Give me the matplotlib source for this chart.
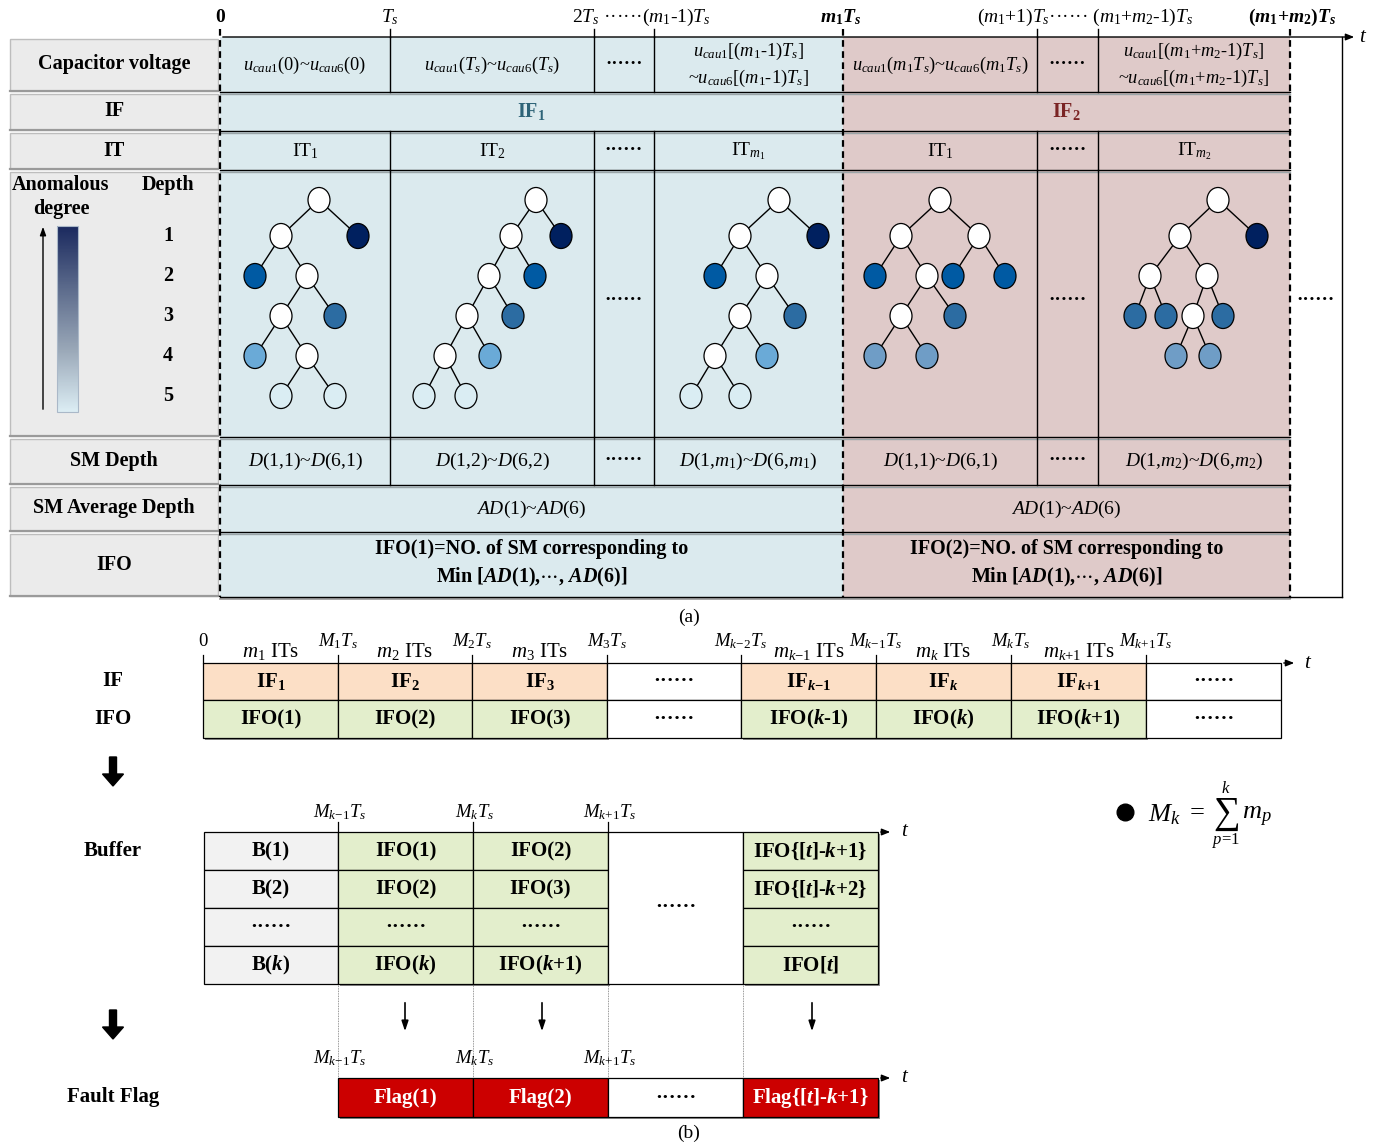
import matplotlib
matplotlib.use("Agg")
from matplotlib import pyplot as plt
from matplotlib.patches import Rectangle, Ellipse, FancyArrow
from matplotlib.colors import LinearSegmentedColormap
import numpy as np

plt.rcParams['font.family'] = ['Liberation Serif', 'DejaVu Serif']
plt.rcParams['mathtext.fontset'] = 'custom'
plt.rcParams['mathtext.rm'] = 'Liberation Serif'
plt.rcParams['mathtext.it'] = 'Liberation Serif:italic'
plt.rcParams['mathtext.bf'] = 'Liberation Serif:bold'
plt.rcParams['mathtext.bfit'] = 'Liberation Serif:italic:bold'

DOTS = "\u00b7" * 6

# ---------------- part (a) data ----------------
row_names_a = ["Capacitor voltage", "IF", "IT", "", "SM Depth", "SM Average Depth", "IFO"]

top_ticks = [
    ("0", True),
    (r"$T_s$", False),
    (r"2$T_s$ " + DOTS + r"($m_1$-1)$T_s$", False),
    (r"$\mathbfit{m}_\mathbf{1}\mathbfit{T}_\mathbfit{s}$", True),
    (r"($m_1$+1)$T_s$" + DOTS + r" ($m_1$+$m_2$-1)$T_s$", False),
    (r"($\mathbfit{m}_\mathbf{1}$+$\mathbfit{m}_\mathbf{2}$)$\mathbfit{T}_\mathbfit{s}$", True),
]

cap_labels = [
    r"$u_{cau1}$(0)~$u_{cau6}$(0)",
    r"$u_{cau1}$($T_s$)~$u_{cau6}$($T_s$)",
    DOTS,
    r"$u_{cau1}$[($m_1$-1)$T_s$]" + "\n" + r"~$u_{cau6}$[($m_1$-1)$T_s$]",
    r"$u_{cau1}$($m_1T_s$)~$u_{cau6}$($m_1T_s$)",
    DOTS,
    r"$u_{cau1}$[($m_1$+$m_2$-1)$T_s$]" + "\n" + r"~$u_{cau6}$[($m_1$+$m_2$-1)$T_s$]",
]
if_labels_a = [r"IF$_\mathbf{1}$", r"IF$_\mathbf{2}$"]
it_labels = [r"IT$_1$", r"IT$_2$", DOTS, r"IT$_{m_1}$", r"IT$_1$", DOTS, r"IT$_{m_2}$"]
depth_labels = [
    r"$D$(1,1)~$D$(6,1)", r"$D$(1,2)~$D$(6,2)", DOTS, r"$D$(1,$m_1$)~$D$(6,$m_1$)",
    r"$D$(1,1)~$D$(6,1)", DOTS, r"$D$(1,$m_2$)~$D$(6,$m_2$)",
]
ad_labels = [r"$AD$(1)~$AD$(6)", r"$AD$(1)~$AD$(6)"]
ifo_labels_a = [
    "IFO(1)=NO. of SM corresponding to\n" + r"Min [$\mathbfit{AD}$(1),$\cdots$, $\mathbfit{AD}$(6)]",
    "IFO(2)=NO. of SM corresponding to\n" + r"Min [$\mathbfit{AD}$(1),$\cdots$, $\mathbfit{AD}$(6)]",
]
depth_numbers = ["1", "2", "3", "4", "5"]

# isolation trees: (x, level, anomaly shade, parent index)
tree_1 = [(319, 0, 0, -1), (281, 1, 0, 0), (358, 1, 1, 0), (255, 2, 2, 1), (307, 2, 0, 1),
          (281, 3, 0, 4), (335, 3, 3, 4), (255, 4, 4, 5), (307, 4, 0, 5), (281, 5, 5, 8), (335, 5, 5, 8)]
tree_2 = [(536, 0, 0, -1), (511, 1, 0, 0), (561, 1, 1, 0), (489, 2, 0, 1), (535, 2, 2, 1),
          (467, 3, 0, 3), (513, 3, 3, 3), (445, 4, 0, 5), (490, 4, 4, 5), (424, 5, 5, 7), (466, 5, 5, 7)]
tree_3 = [(779, 0, 0, -1), (740, 1, 0, 0), (818, 1, 1, 0), (715, 2, 2, 1), (767, 2, 0, 1),
          (740, 3, 0, 4), (795, 3, 3, 4), (715, 4, 0, 5), (767, 4, 4, 5), (691, 5, 5, 7), (740, 5, 5, 7)]
tree_4 = [(940, 0, 0, -1), (901, 1, 0, 0), (979, 1, 0, 0), (875, 2, 2, 1), (927, 2, 0, 1),
          (953, 2, 2, 2), (1005, 2, 2, 2), (901, 3, 0, 4), (955, 3, 3, 4), (875, 4, 6, 7), (927, 4, 6, 7)]
tree_5 = [(1218, 0, 0, -1), (1180, 1, 0, 0), (1257, 1, 1, 0), (1150, 2, 0, 1), (1207, 2, 0, 1),
          (1135, 3, 3, 3), (1166, 3, 3, 3), (1193, 3, 0, 4), (1223, 3, 3, 4), (1176, 4, 6, 7), (1210, 4, 6, 7)]
trees = [tree_1, tree_2, tree_3, tree_4, tree_5]

# ---------------- part (b) data ----------------
if_labels_b = [r"IF$_\mathbf{1}$", r"IF$_\mathbf{2}$", r"IF$_\mathbf{3}$", DOTS,
               r"IF$_{\mathbfit{k}\mathbf{-1}}$", r"IF$_\mathbfit{k}$", r"IF$_{\mathbfit{k}\mathbf{+1}}$", DOTS]
ifo_labels_b = ["IFO(1)", "IFO(2)", "IFO(3)", DOTS,
                r"IFO($\mathbfit{k}$-1)", r"IFO($\mathbfit{k}$)", r"IFO($\mathbfit{k}$+1)", DOTS]
span_labels_b = [r"$m_1$ ITs", r"$m_2$ ITs", r"$m_3$ ITs", "",
                 r"$m_{k\mathrm{-1}}$ ITs", r"$m_k$ ITs", r"$m_{k\mathrm{+1}}$ ITs", ""]
bound_labels_b = ["0", r"$M_1T_s$", r"$M_2T_s$", r"$M_3T_s$",
                  r"$M_{k\mathrm{-2}}T_s$", r"$M_{k\mathrm{-1}}T_s$", r"$M_kT_s$", r"$M_{k\mathrm{+1}}T_s$"]

buffer_cols = [
    ["B(1)", "B(2)", DOTS, r"B($\mathbfit{k}$)"],
    ["IFO(1)", "IFO(2)", DOTS, r"IFO($\mathbfit{k}$)"],
    ["IFO(2)", "IFO(3)", DOTS, r"IFO($\mathbfit{k}$+1)"],
    None,
    [r"IFO{[$\mathbfit{t}$]-$\mathbfit{k}$+1}", r"IFO{[$\mathbfit{t}$]-$\mathbfit{k}$+2}", DOTS,
     r"IFO[$\mathbfit{t}$]"],
]
buffer_marks = [r"$M_{k\mathrm{-1}}T_s$", r"$M_kT_s$", r"$M_{k\mathrm{+1}}T_s$"]
flag_labels = ["Flag(1)", "Flag(2)", DOTS, r"Flag{[$\mathbfit{t}$]-$\mathbfit{k}$+1}"]

# ---------------- layout / styles ----------------
col_x = [220, 390, 594, 654, 843, 1037, 1098, 1290]
row_y = [37, 92, 131, 170, 437, 485, 532, 597]
level_y = [200, 236, 276, 316, 356, 396]
top_tick_x = [220, 390, 641, 841, 1085, 1292]

tl_x = [203, 338, 472, 607, 741, 876, 1011, 1146, 1281]
tl_y = [663, 700, 738]
buf_x = [204, 338, 473, 608, 743, 878]
buf_y = [832, 870, 908, 946, 984]
flag_y = [1078, 1117]

BLUE_BG = "#dbeaee"
PINK_BG = "#dfcac9"
GRAY_BG = "#ebebeb"
PEACH = "#fcdfc6"
GREEN = "#e3eecc"
RED = "#cc0000"
shade_colors = ["white", "#00205f", "#005aa3", "#2c6ca2", "#6aaad7", "#daedf3", "#6f9dc6"]

LABEL_SIZE = 14.5
BODY_SIZE = 14
BOX_SIZE = 15
TICK_SIZE = 13.5

fig = plt.figure(figsize=(13.76, 11.44), dpi=100)
ax = fig.add_axes([0, 0, 1, 1])


def txt(x, y, s, size=LABEL_SIZE, bold=False, color="black", **kw):
    ax.text(x, y, s, fontsize=size, fontweight="bold" if bold else "normal",
            color=color, ha=kw.pop("ha", "center"), va=kw.pop("va", "center"), zorder=6, **kw)


def box(x0, y0, x1, y1, face, edge="black", lw=0.9, shadow=True, z=2):
    if shadow:
        ax.add_patch(Rectangle((x0 + 1.5, y0 + 1.5), x1 - x0, y1 - y0, facecolor="#8c8c8c",
                               edgecolor="none", zorder=z - 0.5))
    ax.add_patch(Rectangle((x0, y0), x1 - x0, y1 - y0, facecolor=face, edgecolor=edge,
                           lw=lw, zorder=z))


def hline(y, x0, x1, **kw):
    ax.plot([x0, x1], [y, y], color=kw.pop("color", "black"), lw=kw.pop("lw", 1.0), zorder=kw.pop("zorder", 3), **kw)


def vline(x, y0, y1, **kw):
    ax.plot([x, x], [y0, y1], color=kw.pop("color", "black"), lw=kw.pop("lw", 1.0), zorder=kw.pop("zorder", 3), **kw)


def time_arrow(x0, x1, y, label_x):
    ax.annotate("", xy=(x1, y), xytext=(x0, y),
                arrowprops=dict(arrowstyle="-|>,head_length=0.5,head_width=0.2", color="black", lw=1.0),
                zorder=4)
    txt(label_x, y, r"$t$", size=15)


# ================= part (a) =================
ax.add_patch(Rectangle((col_x[0], row_y[0]), col_x[4] - col_x[0], row_y[-1] - row_y[0],
                       facecolor=BLUE_BG, edgecolor="none", zorder=1))
ax.add_patch(Rectangle((col_x[4], row_y[0]), col_x[7] - col_x[4], row_y[-1] - row_y[0],
                       facecolor=PINK_BG, edgecolor="none", zorder=1))

# left header cells
for i, name in enumerate(row_names_a):
    y0, y1 = row_y[i] + 2, row_y[i + 1] - 1
    ax.add_patch(Rectangle((10, y0), 208, y1 - y0, facecolor=GRAY_BG, edgecolor="#bdbdbd",
                           lw=1.0, zorder=2))
    hline(y1, 10, 218, color="#9a9a9a", lw=1.6, zorder=2.5)
    if name:
        txt(114, (row_y[i] + row_y[i + 1]) / 2, name, bold=True)

# grid lines
for y in row_y[1:-1]:
    hline(y, col_x[0], col_x[-1], lw=1.0)
    hline(y + 2, col_x[0], col_x[-1], color="#9aa5a8", lw=1.0, zorder=2.5)
hline(row_y[-1], col_x[0], col_x[-1], lw=1.0)
hline(row_y[-1] + 2, col_x[0], col_x[-1], color="#9a9a9a", lw=1.2, zorder=2.5)
for r in [0, 2, 3, 4]:
    for x in col_x[1:4] + col_x[5:7]:
        vline(x, row_y[r], row_y[r + 1], lw=1.0)
for x in [col_x[0], col_x[4], col_x[7]]:
    vline(x, 29, row_y[-1], lw=1.6, linestyle=(0, (3, 2)), zorder=4)
for x in col_x[1:4] + col_x[5:7]:
    vline(x, 29, row_y[0], lw=1.0)

# outer right box and time axis
vline(1342, row_y[0], row_y[-1], lw=1.0)
hline(row_y[-1], col_x[-1], 1342, lw=1.0)
time_arrow(col_x[0], 1357, row_y[0], 1363)

for (s, b), x in zip(top_ticks, top_tick_x):
    txt(x, 17, s, size=TICK_SIZE + 0.5, bold=b)

mid_a = [(col_x[i] + col_x[i + 1]) / 2 for i in range(len(col_x) - 1)]
for x, s in zip(mid_a, cap_labels):
    txt(x, 65, s, size=13.2, bold=(s == DOTS), linespacing=1.35)
txt((col_x[0] + col_x[4]) / 2, 112, if_labels_a[0], bold=True, color="#2e6478")
txt((col_x[4] + col_x[7]) / 2, 112, if_labels_a[1], bold=True, color="#7a2424")
for x, s in zip(mid_a, it_labels):
    txt(x, 151, s, size=BODY_SIZE, bold=(s == DOTS))
for x, s in zip(mid_a, depth_labels):
    txt(x, 461, s, size=BODY_SIZE, bold=(s == DOTS))
for x, s in zip([(col_x[0] + col_x[4]) / 2, (col_x[4] + col_x[7]) / 2], ad_labels):
    txt(x, 509, s, size=BODY_SIZE)
for x, s in zip([(col_x[0] + col_x[4]) / 2, (col_x[4] + col_x[7]) / 2], ifo_labels_a):
    txt(x, 564, s, size=LABEL_SIZE, bold=True, linespacing=1.4)
for x in [mid_a[2], mid_a[5]]:
    txt(x, 300, DOTS, size=BODY_SIZE, bold=True)
txt(1316, 300, DOTS, size=BODY_SIZE, bold=True)

# legend in the header cell
txt(61, 197, "Anomalous\ndegree", bold=True, linespacing=1.3)
txt(168, 185, "Depth", bold=True)
for s, y in zip(depth_numbers, level_y[1:]):
    txt(168, y, s, bold=True)
ax.annotate("", xy=(43, 224), xytext=(43, 412),
            arrowprops=dict(arrowstyle="-|>,head_length=0.5,head_width=0.18", color="black", lw=1.0),
            zorder=4)
grad_cmap = LinearSegmentedColormap.from_list("anom", ["#1b2a5f", "#5c6b8c", "#9aa8b8", "#dcedf4"])
ax.imshow(np.linspace(0, 1, 200).reshape(-1, 1), cmap=grad_cmap, aspect="auto",
          extent=(57, 78, 412, 226), zorder=3)
ax.add_patch(Rectangle((57, 226), 21, 186, facecolor="none", edgecolor="#aab8c8", lw=0.8, zorder=3.5))

# trees
for tree in trees:
    for x, lev, sh, p in tree:
        if p >= 0:
            px, plev = tree[p][0], tree[p][1]
            ax.plot([px, x], [level_y[plev], level_y[lev]], color="black", lw=1.0, zorder=4)
    for x, lev, sh, p in tree:
        ax.add_patch(Ellipse((x, level_y[lev]), 22, 25, facecolor=shade_colors[sh],
                             edgecolor="black", lw=0.9, zorder=5))

txt(689, 617, "(a)", size=BODY_SIZE)

# ================= part (b) =================
mid_b = [(tl_x[i] + tl_x[i + 1]) / 2 for i in range(len(tl_x) - 1)]
for i in range(len(mid_b)):
    filled = if_labels_b[i] != DOTS
    box(tl_x[i], tl_y[0], tl_x[i + 1], tl_y[1], PEACH if filled else "white", shadow=filled)
    box(tl_x[i], tl_y[1], tl_x[i + 1], tl_y[2], GREEN if filled else "white", shadow=filled)
    txt(mid_b[i], 681, if_labels_b[i], size=BOX_SIZE, bold=True)
    txt(mid_b[i], 719, ifo_labels_b[i], size=BOX_SIZE, bold=True)
    if span_labels_b[i]:
        txt(mid_b[i], 651, span_labels_b[i], size=BOX_SIZE)
for x, s in zip(tl_x[:-1], bound_labels_b):
    txt(x, 641, s, size=TICK_SIZE)
    vline(x, 655, tl_y[0], lw=0.9)
time_arrow(tl_x[-1], 1297, tl_y[0], 1308)
txt(113, 681, "IF", bold=True, size=BOX_SIZE)
txt(113, 719, "IFO", bold=True, size=BOX_SIZE)

for ya in [757, 1010]:
    ax.add_patch(FancyArrow(113, ya, 0, 29, width=7, head_width=21, head_length=12,
                            length_includes_head=True, color="black", zorder=4))

# buffer
txt(113, 851, "Buffer", bold=True, size=BOX_SIZE)
for c, col in enumerate(buffer_cols):
    x0, x1 = buf_x[c], buf_x[c + 1]
    if col is None:
        box(x0, buf_y[0], x1, buf_y[-1], "white", shadow=False)
        txt((x0 + x1) / 2, 907, DOTS, bold=True, size=BOX_SIZE)
        continue
    for r, s in enumerate(col):
        face = "#f2f2f2" if c == 0 else GREEN
        box(x0, buf_y[r], x1, buf_y[r + 1], face, shadow=(c != 0))
        txt((x0 + x1) / 2, (buf_y[r] + buf_y[r + 1]) / 2, s, bold=True, size=BOX_SIZE)
for x, s in zip(buf_x[1:4], buffer_marks):
    txt(x + 2, 812, s, size=TICK_SIZE)
    vline(x, 822, buf_y[0], lw=0.9)
time_arrow(buf_x[-1], 893, buf_y[0], 905)

for x in buf_x[1:5]:
    vline(x, buf_y[-1], flag_y[0], lw=0.6, color="#777777", linestyle=(0, (1, 1)), zorder=1.5)
for x in [405, 542, 812]:
    ax.annotate("", xy=(x, 1034), xytext=(x, 1000),
                arrowprops=dict(arrowstyle="-|>,head_length=0.6,head_width=0.2", color="black", lw=1.2),
                zorder=4)

# fault flags
txt(113, 1097, "Fault Flag", bold=True, size=BOX_SIZE)
for c, s in enumerate(flag_labels):
    x0, x1 = buf_x[c + 1], buf_x[c + 2]
    red = s != DOTS
    box(x0, flag_y[0], x1, flag_y[1], RED if red else "white", shadow=True)
    txt((x0 + x1) / 2, (flag_y[0] + flag_y[1]) / 2, s, bold=True, size=BOX_SIZE,
        color="white" if red else "black")
for x, s in zip(buf_x[1:4], buffer_marks):
    txt(x + 2, 1058, s, size=TICK_SIZE)
time_arrow(buf_x[-1], 893, flag_y[0], 905)
txt(689, 1133, "(b)", size=BODY_SIZE)

# formula M_k = sum_{p=1}^{k} m_p, built from pieces so the sum sign is large
ax.plot([1125], [812], "o", ms=12, color="black", zorder=5)
txt(1148, 815, r"$M_k$", size=19, ha="left")
txt(1197, 813, "=", size=19)
txt(1226, 815, r"$\sum$", size=27)
txt(1226, 789, r"$k$", size=12)
txt(1226, 841, r"$p$=1", size=12)
txt(1242, 817, r"$m_p$", size=19, ha="left")

ax.set_xlim(0, 1376)
ax.set_ylim(1144, 0)
ax.axis("off")
fig.savefig("out.png", dpi=100)
